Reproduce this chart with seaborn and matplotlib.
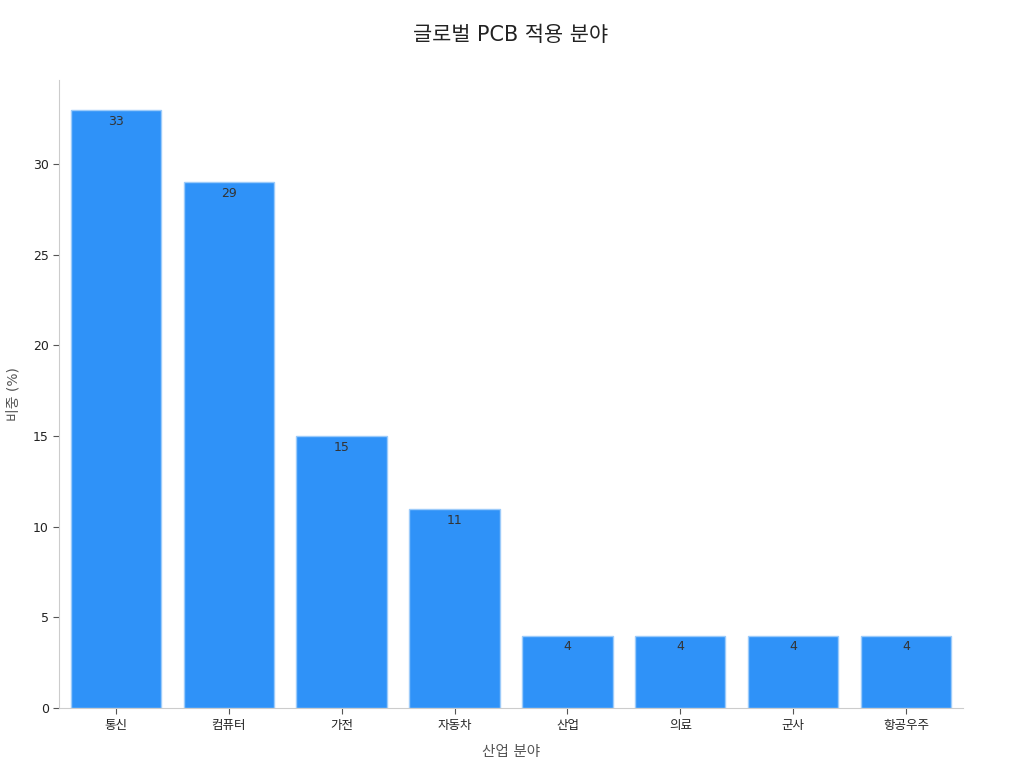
import matplotlib
matplotlib.use('Agg')
import matplotlib.pyplot as plt
import seaborn as sns
import pandas as pd

# 데이터
categories = ['통신', '컴퓨터', '가전', '자동차', '산업', '의료', '군사', '항공우주']
shares = [33, 29, 15, 11, 4, 4, 4, 4]

sns.set_style('white')
plt.rcParams['font.family'] = ['DejaVu Sans', 'Noto Sans CJK KR']

df = pd.DataFrame({'분야': categories, '비중': shares})

fig = plt.figure(figsize=(10.24, 7.68), dpi=100)
ax = fig.add_axes([0.058, 0.078, 0.882, 0.818])

sns.barplot(data=df, x='분야', y='비중', color='#2F92F8', saturation=1,
            edgecolor='#9CCBFA', linewidth=1, width=0.8, ax=ax)

for i, v in enumerate(shares):
    ax.text(i, v - 0.27, str(v), ha='center', va='top', fontsize=9, color='#333333')

ax.set_ylim(0, 34.65)
ax.set_xlim(-0.5, 7.5)
ax.set_title('글로벌 PCB 적용 분야', fontsize=15, color='#222222', pad=28)
ax.set_xlabel('산업 분야', fontsize=10.5, color='#555555', labelpad=9)
ax.set_ylabel('비중 (%)', fontsize=10, color='#555555', labelpad=9)

sns.despine(ax=ax)
for s in ['left', 'bottom']:
    ax.spines[s].set_color('#CCCCCC')
    ax.spines[s].set_linewidth(0.8)
ax.tick_params(axis='both', length=4, color='#555555', labelsize=9, labelcolor='#222222',
               left=True, bottom=True)

fig.savefig('out.png', dpi=100)
